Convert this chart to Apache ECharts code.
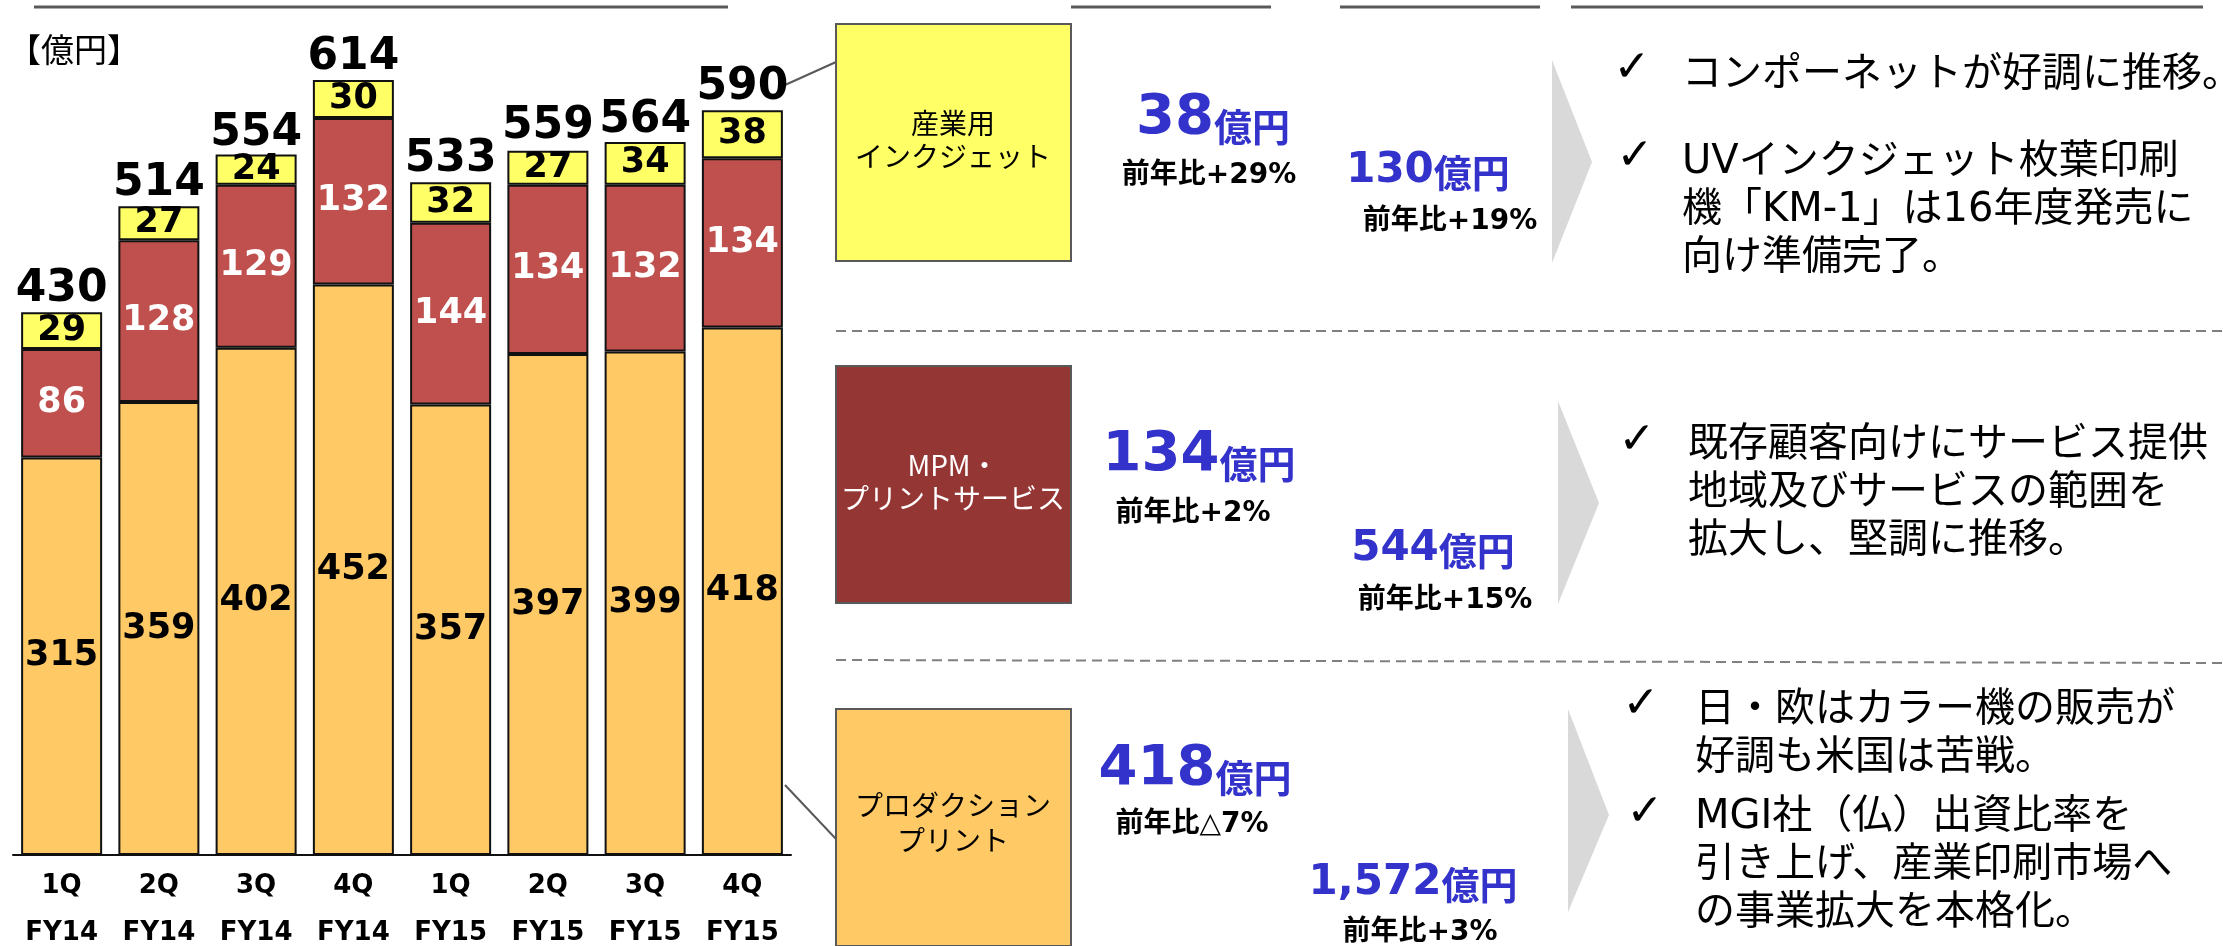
<!DOCTYPE html>
<html>
<head>
<meta charset="utf-8">
<title>印刷事業 売上推移</title>
<script src="https://cdn.jsdelivr.net/npm/echarts@6/dist/echarts.min.js"></script>
<style>
  html, body { margin: 0; padding: 0; background: #fff; }
  #chart { width: 2223px; height: 946px; }
</style>
</head>
<body>
<div id="chart"></div>
<script>
// 四半期ごとの売上（億円）
const quarters = ['1Q', '2Q', '3Q', '4Q', '1Q', '2Q', '3Q', '4Q']
const years = ['FY14', 'FY14', 'FY14', 'FY14', 'FY15', 'FY15', 'FY15', 'FY15']
const production = [315, 359, 402, 452, 357, 397, 399, 418]   // プロダクションプリント
const mpm = [86, 128, 129, 132, 144, 134, 132, 134]            // MPM・プリントサービス
const inkjet = [29, 27, 24, 30, 32, 27, 34, 38]                // 産業用インクジェット
const totals = [430, 514, 554, 614, 533, 559, 564, 590]

const FONT_NUM = "'DejaVu Sans', 'Noto Sans CJK JP'"
const FONT_JP = "'Noto Sans CJK JP'"
const BLUE = '#3333cc'

const categories = quarters.map((q, i) => q + '\n' + years[i])

const segLabel = (color) => ({
  show: true,
  position: 'inside',
  color: color,
  fontFamily: FONT_NUM,
  fontWeight: 'bold',
  fontSize: 35
})

const barSeries = (name, data, fill, labelColor) => ({
  name: name,
  type: 'bar',
  stack: 'total',
  barWidth: 81,
  data: data,
  itemStyle: {color: fill, borderColor: '#111', borderWidth: 2},
  label: segLabel(labelColor)
})

// 右側のテキスト類
const txt = (x, y, text, opt) => ({
  type: 'text', x: x, y: y, silent: true,
  style: Object.assign({text: text, fill: '#000', fontFamily: FONT_JP, fontSize: 28, align: 'center', verticalAlign: 'middle'}, opt || {})
})

const amount = (x, y, num, big, small) => txt(x, y, '{a|' + num + '}{b|億円}', {
  rich: {
    a: {fontFamily: FONT_NUM, fontWeight: 'bold', fontSize: big, lineHeight: big, fill: BLUE, verticalAlign: 'bottom'},
    b: {fontFamily: FONT_JP, fontWeight: 'bold', fontSize: small, lineHeight: small + 6, fill: BLUE, verticalAlign: 'bottom'}
  }
})

const yoy = (x, y, text) => txt(x, y, text, {fontFamily: FONT_NUM, fontWeight: 'bold', fontSize: 28})

const bullet = (x, y) => txt(x, y, '✓', {fontFamily: "'DejaVu Sans'", fontWeight: 'bold', fontSize: 44})
const para = (x, y, text) => txt(x, y - 24, text, {fontFamily: "'DejaVu Sans', 'Noto Sans CJK JP'", fontSize: 40, lineHeight: 48, align: 'left', verticalAlign: 'top'})

const line = (x1, y1, x2, y2, style) => ({
  type: 'line', silent: true,
  shape: {x1: x1, y1: y1, x2: x2, y2: y2},
  style: Object.assign({stroke: '#595959', lineWidth: 2}, style || {})
})

const box = (y, fill) => ({
  type: 'rect', silent: true,
  shape: {x: 836, y: y, width: 235, height: 237},
  style: {fill: fill, stroke: '#595959', lineWidth: 2}
})

const arrow = (pts) => ({type: 'polygon', silent: true, shape: {points: pts}, style: {fill: '#d9d9d9'}})

const graphics = [
  // 上部の見出し下線
  line(34, 7, 728, 7, {lineWidth: 3}),
  line(1071, 7, 1271, 7, {lineWidth: 3}),
  line(1340, 7, 1540, 7, {lineWidth: 3}),
  line(1571, 7, 2203, 7, {lineWidth: 3}),
  txt(8, 49, '【億円】', {fontSize: 33, align: 'left'}),
  // 引き出し線
  line(785, 85, 836, 62),
  line(785, 785, 836, 839),
  // 区切り
  line(836, 331, 2223, 331, {stroke: '#808080', lineDash: [10, 6]}),
  line(836, 660, 2223, 663, {stroke: '#808080', lineDash: [10, 6]}),
  // 凡例ボックス
  box(24, '#ffff66'),
  box(366, '#943634'),
  box(709, '#ffca65'),
  txt(953, 140, '産業用\nインクジェット', {lineHeight: 33}),
  txt(953, 482, 'MPM・\nプリントサービス', {lineHeight: 33, fill: '#fff'}),
  txt(953, 823, 'プロダクション\nプリント', {lineHeight: 35}),
  // 4Q 金額・前年比
  amount(1213, 118, '38', 56, 38),
  yoy(1209, 176, '前年比+29%'),
  amount(1199, 455, '134', 56, 38),
  yoy(1193, 514, '前年比+2%'),
  amount(1195, 769, '418', 56, 38),
  yoy(1192, 825, '前年比△7%'),
  // 通期
  amount(1428, 170, '130', 42, 38),
  yoy(1450, 222, '前年比+19%'),
  amount(1433, 548, '544', 42, 38),
  yoy(1445, 601, '前年比+15%'),
  amount(1413, 882, '1,572', 42, 38),
  yoy(1420, 933, '前年比+3%'),
  // 矢印
  arrow([[1552, 60], [1592, 162], [1552, 263]]),
  arrow([[1558, 401], [1599, 503], [1558, 604]]),
  arrow([[1568, 709], [1609, 815], [1568, 912]]),
  // コメント
  bullet(1632, 70),
  para(1682, 76, 'コンポーネットが好調に推移。'),
  bullet(1635, 158),
  para(1682, 163, 'UVインクジェット枚葉印刷\n機「KM-1」は16年度発売に\n向け準備完了。'),
  bullet(1637, 442),
  para(1688, 446, '既存顧客向けにサービス提供\n地域及びサービスの範囲を\n拡大し、堅調に推移。'),
  bullet(1641, 706),
  para(1695, 711, '日・欧はカラー機の販売が\n好調も米国は苦戦。'),
  bullet(1645, 814),
  para(1695, 818, 'MGI社（仏）出資比率を\n引き上げ、産業印刷市場へ\nの事業拡大を本格化。')
]

const chart = echarts.init(document.getElementById('chart'))
const option = {
  animation: false,
  backgroundColor: '#fff',
  grid: {left: 13, right: 1432, top: 22, bottom: 91, containLabel: false, outerBoundsMode: 'none'},
  xAxis: {
    type: 'category',
    data: categories,
    axisTick: {show: false},
    axisLine: {lineStyle: {color: '#111', width: 2}},
    axisLabel: {
      color: '#000',
      fontFamily: FONT_NUM,
      fontWeight: 'bold',
      fontSize: 26,
      lineHeight: 47,
      margin: 8,
      interval: 0
    }
  },
  yAxis: {type: 'value', min: 0, max: 660, show: false},
  series: [
    barSeries('プロダクションプリント', production, '#ffca65', '#000'),
    barSeries('MPM・プリントサービス', mpm, '#c0504d', '#fff'),
    barSeries('産業用インクジェット', inkjet, '#ffff66', '#000'),
    {
      name: '合計',
      type: 'scatter',
      data: totals,
      symbolSize: 1,
      itemStyle: {color: 'rgba(0,0,0,0)', opacity: 1},
      z: 5,
      label: {
        show: true,
        position: 'top',
        distance: 0,
        color: '#000',
        opacity: 1,
        fontFamily: FONT_NUM,
        fontWeight: 'bold',
        fontSize: 44
      }
    }
  ],
  graphic: graphics
}
option && chart.setOption(option)
</script>
</body>
</html>
